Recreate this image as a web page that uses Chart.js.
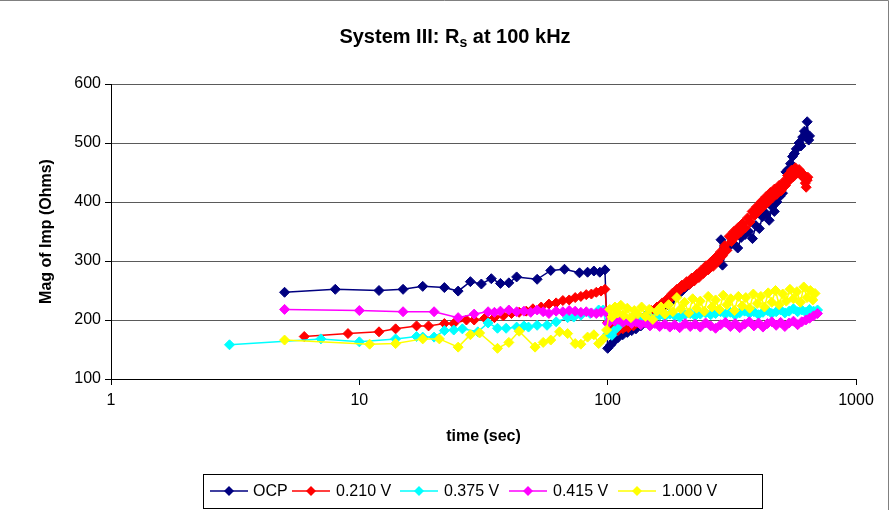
<!DOCTYPE html>
<html>
<head>
<meta charset="utf-8">
<script src="https://cdn.jsdelivr.net/npm/chart.js@4.4.1/dist/chart.umd.min.js"></script>
<style>
html,body{margin:0;padding:0;background:#fff;}
#wrap{width:892px;height:510px;position:relative;}
</style>
</head>
<body>
<div id="wrap"><canvas id="c" width="892" height="510"></canvas></div>
<script>
// ---- data (time in sec, magnitude in Ohms) ----
const seriesNames = ["OCP", "0.210 V", "0.375 V", "0.415 V", "1.000 V"];
const yTicks = [100, 200, 300, 400, 500, 600];
const xTicks = [1, 10, 100, 1000];

const ocpT = [5, 8, 12, 15, 18, 22, 25, 28, 31, 34, 37, 40, 43, 52, 59, 67, 77, 83, 88, 93, 97.5, 100,
  103, 106, 110, 115, 120, 125, 130, 136, 142, 148, 155, 162, 170, 177, 185, 193, 200, 207, 215, 222, 230, 238, 246, 254, 262, 270, 280, 286, 290, 300, 310, 320, 334, 345, 358, 370, 383, 395, 408, 420, 435, 447, 460, 469, 480, 495, 506, 515, 522, 533, 545, 555, 565, 575, 590, 600, 610, 620, 628, 636, 645, 650];
const ocpV = [247, 252, 250, 252, 257, 255, 249, 265, 261, 270, 262, 263, 273, 269, 284, 286, 280, 281, 283, 281, 285, 152,
  158, 164, 170, 175, 179, 182, 185, 190, 196, 202, 208, 215, 222, 228, 236, 244, 250, 256, 262, 268, 274, 279, 284, 290, 294, 300, 306, 336, 293, 318, 326, 330, 322, 340, 345, 350, 338, 360, 355, 375, 380, 369, 392, 384, 400, 410, 415, 430, 451, 455, 465, 477, 482, 490, 500, 495, 510, 520, 516, 536, 505, 512];

const r210T = [6, 9, 12, 14, 17, 19, 22, 24, 27, 29, 32, 35, 38, 41, 44, 47, 50, 54, 58, 62, 66, 70, 74, 78, 82, 86, 90, 94, 97.5, 100,
  103, 105, 108, 110, 112, 115, 118, 121, 124, 127, 130, 133, 136, 140, 143, 147, 150, 154, 158, 162, 166, 170, 174, 178, 182, 186, 190, 195, 199, 204, 208, 213, 218, 223, 228, 233, 238, 243, 249, 254, 260, 266, 272, 278, 284, 290, 296, 302, 309, 315, 322, 329, 336, 343, 350, 358, 366, 374, 382, 390, 398, 407, 416, 425, 434, 443, 452, 461, 470, 480, 490, 500, 510, 520, 530, 540, 550, 560, 570, 580, 590, 600, 610, 618, 625, 630, 636, 640];
const r210V = [172, 177, 180, 185, 190, 190, 194, 194, 200, 200, 203, 204, 207, 211, 213, 215, 219, 222, 227, 229, 233, 234, 238, 240, 243, 244, 247, 249, 252, 196,
  190, 186, 188, 182, 187, 185, 189, 187, 193, 190, 197, 195, 203, 200, 209, 206, 216, 212, 222, 217, 229, 228, 236, 235, 245, 243, 252, 250, 259, 256, 265, 260, 271, 266, 277, 272, 284, 279, 292, 285, 298, 291, 306, 299, 315, 309, 326, 318, 342, 333, 350, 342, 357, 349, 364, 356, 373, 366, 384, 377, 392, 385, 401, 393, 409, 400, 416, 407, 422, 413, 428, 419, 434, 428, 445, 437, 454, 443, 458, 449, 455, 446, 448, 440, 432, 425, 437, 442];

const r375T = [3, 7, 10, 14, 17, 18, 20, 22, 24, 26, 30, 33, 36, 39, 43, 46, 48, 52, 57, 62, 69, 73, 78, 85, 92, 96, 100,
  104, 108, 112, 116, 120, 125, 130, 136, 142, 148, 155, 162, 170, 178, 186, 195, 205, 215, 225, 236, 248, 260, 272, 285, 298, 312, 326, 340, 356, 372, 388, 405, 422, 440, 458, 477, 497, 517, 538, 560, 582, 605, 628, 650, 675, 700];
const r375V = [158, 168, 163, 168, 172, 171, 171, 182, 183, 185, 180, 195, 186, 186, 188, 190, 188, 191, 191, 197, 204, 205, 208, 211, 217, 217, 176,
  174, 185, 192, 197, 200, 203, 205, 202, 207, 205, 204, 208, 206, 210, 207, 205, 209, 211, 207, 210, 212, 209, 211, 214, 210, 213, 208, 212, 215, 211, 214, 209, 213, 216, 211, 214, 217, 212, 215, 219, 214, 217, 213, 218, 215, 217];

const r415T = [5, 10, 15, 20, 25, 29, 33, 35, 37, 40, 43, 46, 49, 52, 55, 58, 62, 66, 70, 74, 78, 82, 86, 90, 94, 98, 100,
  103, 107, 111, 115, 120, 125, 130, 136, 142, 148, 155, 162, 170, 178, 186, 195, 205, 215, 225, 236, 248, 260, 272, 285, 298, 312, 326, 340, 356, 372, 388, 405, 422, 440, 458, 477, 497, 517, 538, 560, 582, 605, 628, 650, 675, 700];
const r415V = [218, 216, 214, 214, 204, 210, 214, 213, 215, 217, 214, 215, 213, 217, 214, 211, 215, 214, 216, 215, 213, 214, 212, 211, 213, 214, 194,
  203, 198, 201, 196, 199, 194, 197, 192, 195, 190, 194, 189, 193, 188, 192, 187, 194, 189, 193, 188, 195, 190, 186, 192, 196, 189, 194, 187, 193, 197, 190, 195, 188, 194, 197, 191, 196, 189, 195, 198, 192, 197, 200, 203, 207, 211];

const r1000T = [5, 11, 14, 18, 21, 25, 28, 30.5, 36, 40, 44, 51, 55, 59, 64, 69, 74, 78, 83, 88, 92, 96, 99,
  102, 104, 107, 110, 113, 116, 120, 124, 128, 132, 137, 142, 147, 152, 158, 164, 170, 176, 183, 190, 197, 204, 212, 220, 228, 236, 245, 254, 263, 272, 282, 292, 302, 313, 324, 336, 348, 360, 373, 386, 400, 414, 428, 443, 458, 474, 490, 507, 524, 542, 560, 578, 597, 616, 635, 655, 670, 684];
const r1000V = [166, 159, 160, 168, 168, 154, 175, 178, 152, 162, 181, 154, 162, 166, 180, 177, 160, 159, 171, 175, 160, 168, 183,
  218, 205, 222, 212, 225, 208, 220, 204, 216, 210, 222, 206, 218, 201, 215, 222, 210, 226, 214, 238, 219, 230, 212, 236, 220, 232, 215, 240, 222, 234, 218, 242, 226, 236, 216, 240, 224, 238, 220, 244, 228, 240, 222, 246, 230, 250, 226, 244, 232, 252, 236, 248, 230, 256, 238, 250, 234, 245];

const seriesT = [ocpT, r210T, r375T, r415T, r1000T];
const seriesV = [ocpV, r210V, r375V, r415V, r1000V];
const seriesColors = ["#000080", "#FF0000", "#00FFFF", "#FF00FF", "#FFFF00"];

// ---- chart ----
const FONT = "'Liberation Sans', Arial, Helvetica, sans-serif";

const datasets = seriesNames.map((name, k) => ({
  label: name,
  data: seriesT[k].map((t, i) => ({x: t, y: seriesV[k][i]})),
  showLine: true,
  borderColor: seriesColors[k],
  backgroundColor: seriesColors[k],
  borderWidth: 1.5,
  pointStyle: 'rectRot',
  pointRadius: 5,
  pointBorderWidth: 1,
  pointBorderColor: seriesColors[k],
  pointBackgroundColor: seriesColors[k],
  tension: 0,
  order: 5 - k
}));

const titlePlugin = {
  id: 'subTitle',
  afterDraw(chart) {
    const ctx = chart.ctx;
    ctx.save();
    ctx.fillStyle = '#000';
    ctx.textBaseline = 'alphabetic';
    const big = 'bold 20px ' + FONT, small = 'bold 14px ' + FONT;
    const p1 = 'System III: R', p2 = 's', p3 = ' at 100 kHz';
    ctx.font = big; const w1 = ctx.measureText(p1).width; const w3 = ctx.measureText(p3).width;
    ctx.font = small; const w2 = ctx.measureText(p2).width;
    const total = w1 + w2 + w3;
    let x = 455 - total / 2;
    const base = 43;
    ctx.font = big; ctx.fillText(p1, x, base); x += w1;
    ctx.font = small; ctx.fillText(p2, x, base + 4); x += w2;
    ctx.font = big; ctx.fillText(p3, x, base);
    // outer frame (top and right edges)
    ctx.strokeStyle = '#808080';
    ctx.lineWidth = 1;
    ctx.beginPath();
    ctx.moveTo(0, 0.5); ctx.lineTo(888.5, 0.5); ctx.lineTo(888.5, 510);
    ctx.stroke();
    ctx.restore();
  }
};

const legendPlugin = {
  id: 'boxLegend',
  afterDraw(chart) {
    const ctx = chart.ctx;
    ctx.save();
    ctx.strokeStyle = '#000';
    ctx.lineWidth = 1;
    ctx.strokeRect(203.5, 474.5, 559, 34);
    const lineX = [210, 292, 400, 509, 618];
    const textX = [253, 336, 444, 553, 662];
    const cy = 491;
    ctx.font = '16px ' + FONT;
    ctx.textBaseline = 'middle';
    seriesNames.forEach((name, k) => {
      const c = seriesColors[k];
      ctx.strokeStyle = c; ctx.lineWidth = 1.5;
      ctx.beginPath(); ctx.moveTo(lineX[k], cy); ctx.lineTo(lineX[k] + 38, cy); ctx.stroke();
      const mx = lineX[k] + 19;
      ctx.fillStyle = c;
      ctx.beginPath();
      ctx.moveTo(mx, cy - 5); ctx.lineTo(mx + 5, cy); ctx.lineTo(mx, cy + 5); ctx.lineTo(mx - 5, cy); ctx.closePath();
      ctx.fill();
      ctx.fillStyle = '#000';
      ctx.fillText(name, textX[k], cy + 1);
    });
    ctx.restore();
  }
};

new Chart(document.getElementById('c'), {
  type: 'scatter',
  data: {datasets},
  plugins: [titlePlugin, legendPlugin],
  options: {
    responsive: false,
    animation: false,
    devicePixelRatio: 1,
    layout: {padding: {left: 0, right: 36, top: 84, bottom: 61}},
    plugins: {legend: {display: false}, tooltip: {enabled: false}, title: {display: false}},
    scales: {
      x: {
        type: 'logarithmic',
        min: 1, max: 1000,
        afterBuildTicks(scale) { scale.ticks = xTicks.map(v => ({value: v, major: true})); },
        afterFit(scale) { scale.height = 70; },
        ticks: {
          autoSkip: false, maxRotation: 0, padding: 6,
          color: '#000', font: {family: FONT, size: 16},
          callback: (v) => String(v)
        },
        grid: {drawOnChartArea: false, drawTicks: true, tickLength: 6, color: '#000'},
        border: {color: '#000', width: 1},
        title: {display: true, text: 'time (sec)', color: '#000', font: {family: FONT, size: 16, weight: 'bold'}, padding: {top: 0, bottom: 3}}
      },
      y: {
        min: 100, max: 600,
        afterBuildTicks(scale) { scale.ticks = yTicks.map(v => ({value: v})); },
        afterFit(scale) { scale.width = 111; },
        ticks: {color: '#000', font: {family: FONT, size: 16}, padding: 4},
        grid: {color: '#5a5a5a', lineWidth: 1, tickLength: 6, tickColor: '#000'},
        border: {color: '#000', width: 1},
        title: {display: true, text: 'Mag of Imp (Ohms)', color: '#000', font: {family: FONT, size: 16, weight: 'bold'}, padding: {top: 37, bottom: 0}}
      }
    }
  }
});
</script>
</body>
</html>
